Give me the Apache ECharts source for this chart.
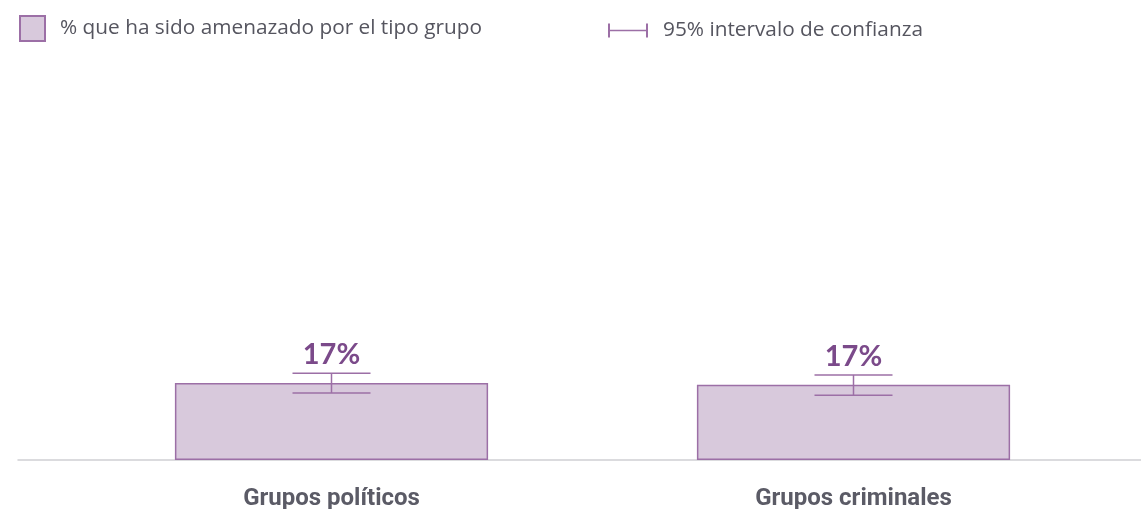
<!DOCTYPE html>
<html><head><meta charset="utf-8">
<script src="https://cdn.jsdelivr.net/npm/echarts@6/dist/echarts.min.js"></script>
<style>html,body{margin:0;padding:0;background:#fff}#c{width:1141px;height:509px}</style>
</head><body><div id="c"></div>
<script>
const categories = ['Grupos políticos', 'Grupos criminales'];
const values = [17.1, 16.7];
const ciLow = [14.9, 14.4];
const ciHigh = [19.3, 18.9];
const seriesName = '% que ha sido amenazado por el tipo grupo';
const ciName = '95% intervalo de confianza';

const purple = '#9c6fa6';
const fill = '#d8c9dc';
const labelColor = '#7b4a8a';
const textGrey = '#55555f';

const chart = echarts.init(document.getElementById('c'));
chart.setOption({
  animation: false,
  textStyle: { fontFamily: 'Open Sans' },
  legend: [
    { data: [{ name: seriesName, icon: 'rect' }], left: 19, top: 15, padding: 0, itemWidth: 25, itemHeight: 25,
      textStyle: { fontSize: 20.8, color: textGrey, fontFamily: 'Open Sans', padding: [0, 0, 0, 10] },
      itemStyle: { color: fill, borderColor: purple, borderWidth: 2 } },
    { data: [{ name: ciName, icon: 'path://M0,0H2V14H0ZM2,6.25H38V7.75H2ZM38,0H40V14H38Z' }],
      left: 608, top: 20, padding: 0, itemWidth: 40, itemHeight: 14,
      textStyle: { fontSize: 20.8, color: textGrey, fontFamily: 'Open Sans', padding: [0, 0, 0, 10] },
      itemStyle: { color: purple } }
  ],
  grid: [
    { left: 70.5, right: 26.5, top: 10, bottom: 49, outerBoundsMode: 'none', containLabel: false },
    { left: 18, right: 0, top: 10, bottom: 49, outerBoundsMode: 'none', containLabel: false }
  ],
  xAxis: [
    { type: 'category', data: categories, gridIndex: 0,
      axisLine: { show: false }, axisTick: { show: false },
      axisLabel: { margin: 27, fontSize: 24, fontWeight: 'bold', color: '#5b5b66', fontFamily: 'Roboto' } },
    { type: 'value', gridIndex: 1, min: 0, max: 1,
      axisLine: { show: true, onZero: false, lineStyle: { color: '#cfcfd4', width: 1.5 } },
      axisTick: { show: false }, axisLabel: { show: false }, splitLine: { show: false } }
  ],
  yAxis: [
    { type: 'value', gridIndex: 0, min: 0, max: 100, show: false },
    { type: 'value', gridIndex: 1, min: 0, max: 1, show: false }
  ],
  series: [
    { name: seriesName, type: 'bar', data: values, barWidth: '60%',
      xAxisIndex: 0, yAxisIndex: 0,
      itemStyle: { color: fill, borderColor: purple, borderWidth: 1.5 },
      label: { show: true, position: 'top', distance: 14,
        formatter: p => Math.round(p.value) + '%',
        fontSize: 29, fontWeight: 'bold', color: labelColor, fontFamily: 'Lato' } },
    { name: ciName, type: 'custom', xAxisIndex: 0, yAxisIndex: 0,
      itemStyle: { color: purple },
      data: categories.map((c, i) => [i, ciLow[i], ciHigh[i]]),
      renderItem: function (params, api) {
        const lo = api.coord([api.value(0), api.value(1)]);
        const hi = api.coord([api.value(0), api.value(2)]);
        const hw = 39;
        const st = { stroke: purple, lineWidth: 1.5 };
        return { type: 'group', children: [
          { type: 'line', shape: { x1: hi[0], y1: hi[1], x2: lo[0], y2: lo[1] }, style: st },
          { type: 'line', shape: { x1: hi[0] - hw, y1: hi[1], x2: hi[0] + hw, y2: hi[1] }, style: st },
          { type: 'line', shape: { x1: lo[0] - hw, y1: lo[1], x2: lo[0] + hw, y2: lo[1] }, style: st }
        ]};
      },
      z: 5 }
  ]
});
</script></body></html>
